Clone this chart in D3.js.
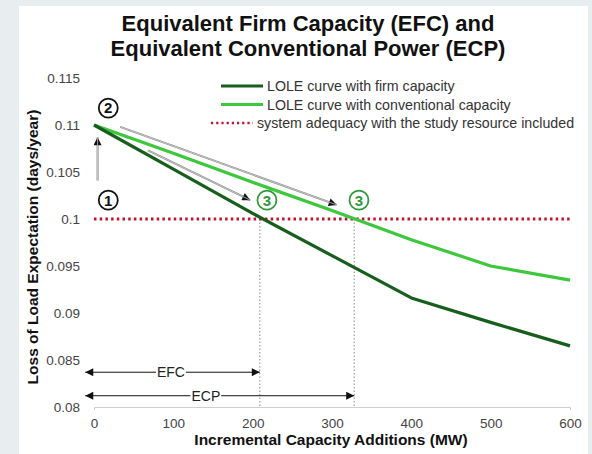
<!DOCTYPE html>
<html><head><meta charset="utf-8">
<script src="https://cdn.jsdelivr.net/npm/d3@7"></script>
<style>
body{margin:0;background:#e8eef0;}
svg{display:block;font-family:"Liberation Sans",Arial,sans-serif;}
</style></head><body>
<svg id="c" width="592" height="454"></svg>
<script>
// ---- data ----
const xValues = [0, 100, 200, 300, 400, 500, 600];
const firmLOLE = [0.110, 0.1053, 0.1006, 0.0961, 0.0916, 0.0890, 0.0865];
const convLOLE = [0.110, 0.1070, 0.1039, 0.1009, 0.0978, 0.0950, 0.0935];
const adequacyLOLE = 0.1;
const efcMW = 209;
const ecpMW = 328;
const xTicks = [0, 100, 200, 300, 400, 500, 600];
const yTicks = [0.08, 0.085, 0.09, 0.095, 0.1, 0.105, 0.11, 0.115];
const legendLabels = ["LOLE curve with firm capacity", "LOLE curve with conventional capacity", "system adequacy with the study resource included"];
const titleLines = ["Equivalent Firm Capacity (EFC) and", "Equivalent Conventional Power (ECP)"];
const xTitle = "Incremental Capacity Additions (MW)";
const yTitle = "Loss of Load Expectation (days/year)";
// annotation anchors (data coordinates)
const stepMarks = [{n:"2", x:18, y:0.1118, c:"#111"}, {n:"1", x:18, y:0.1020, c:"#111"},
                   {n:"3", x:218, y:0.1020, c:"#2f9a3a"}, {n:"3", x:334, y:0.1020, c:"#2f9a3a"}];
const grayArrows = [{x1:4.5, y1:0.1041, x2:4.5, y2:0.1087},
                    {x1:68, y1:0.1073, x2:197, y2:0.1020},
                    {x1:33, y1:0.1098, x2:306, y2:0.1015}];
const spanArrows = [{label:"EFC", from:-11, to:efcMW, y:0.0837, lx:97},
                    {label:"ECP", from:-11, to:ecpMW, y:0.0812, lx:141}];

const svg = d3.select("#c");
svg.append("rect").attr("x",19).attr("y",6).attr("width",569).attr("height",448).attr("fill","#fff");

const x = d3.scaleLinear().domain([0,600]).range([94,570]);
const y = d3.scaleLinear().domain([0.08,0.115]).range([407,78]);

const defs = svg.append("defs");
defs.append("marker").attr("id","ah").attr("viewBox","0 0 10 10").attr("refX",10).attr("refY",5)
  .attr("markerWidth",9).attr("markerHeight",8).attr("markerUnits","userSpaceOnUse").attr("orient","auto")
  .append("path").attr("d","M0,0L10,5L0,10Z").attr("fill","#111");

// title
svg.append("g").selectAll("text").data(titleLines).join("text")
  .attr("x",308).attr("y",(d,i)=>31+i*25).attr("text-anchor","middle")
  .attr("font-size",22).attr("font-weight","bold").attr("fill","#111").text(d=>d);

// axes
const xa = svg.append("g").attr("transform","translate(0,407)")
  .call(d3.axisBottom(x).tickValues(xTicks).tickSize(0).tickSizeOuter(3).tickPadding(11).tickFormat(d3.format("d")));
xa.select(".domain").attr("stroke","#cfcfcf");
xa.selectAll("text").attr("font-size",13.5).attr("fill","#444").attr("font-family","Liberation Sans, Arial, sans-serif");
const ya = svg.append("g").attr("transform","translate(94,0)")
  .call(d3.axisLeft(y).tickValues(yTicks).tickSize(0).tickPadding(14).tickFormat(d=>String(+d.toFixed(3))));
ya.select(".domain").remove();
ya.selectAll("text").attr("font-size",13.5).attr("fill","#444").attr("font-family","Liberation Sans, Arial, sans-serif");

svg.append("text").attr("x",331).attr("y",445).attr("text-anchor","middle")
  .attr("font-size",15.5).attr("font-weight","bold").attr("fill","#111").text(xTitle);
svg.append("text").attr("transform","translate(38,247) rotate(-90)").attr("text-anchor","middle")
  .attr("font-size",15.5).attr("font-weight","bold").attr("fill","#111").text(yTitle);

// vertical dotted guides
svg.append("g").selectAll("line").data([efcMW, ecpMW]).join("line")
  .attr("x1",d=>x(d)).attr("x2",d=>x(d)).attr("y1",y(adequacyLOLE)).attr("y2",y(0.08))
  .attr("stroke","#888").attr("stroke-width",1).attr("stroke-dasharray","1.5,2");

// span arrows EFC / ECP
spanArrows.forEach(a=>{
  svg.append("line").attr("x1",x(a.from)+9).attr("x2",x(a.to)).attr("y1",y(a.y)).attr("y2",y(a.y))
    .attr("stroke","#111").attr("stroke-width",1).attr("marker-end","url(#ah)");
  svg.append("line").attr("x1",x(a.from)+9).attr("x2",x(a.from)).attr("y1",y(a.y)).attr("y2",y(a.y))
    .attr("stroke","#111").attr("stroke-width",1).attr("marker-end","url(#ah)");
  const t = svg.append("text").attr("x",x(a.lx)).attr("y",y(a.y)+5).attr("text-anchor","middle")
    .attr("font-size",14).attr("fill","#222").text(a.label);
  const bb = t.node().getBBox();
  svg.insert("rect", () => t.node()).attr("x",bb.x-1).attr("y",bb.y).attr("width",bb.width+2).attr("height",bb.height).attr("fill","#fff");
});

// adequacy line
svg.append("line").attr("x1",x(0)).attr("x2",x(600)).attr("y1",y(adequacyLOLE)).attr("y2",y(adequacyLOLE))
  .attr("stroke","#c8102e").attr("stroke-width",3).attr("stroke-dasharray","2.5,3.2");

// curves
const line = d3.line().x((d,i)=>x(xValues[i])).y(d=>y(d));
svg.append("path").datum(convLOLE).attr("d",line).attr("fill","none").attr("stroke","#3cc73c").attr("stroke-width",3.2).attr("stroke-linejoin","round");
svg.append("path").datum(firmLOLE).attr("d",line).attr("fill","none").attr("stroke","#175e1c").attr("stroke-width",3.2).attr("stroke-linejoin","round");

// gray annotation arrows
grayArrows.forEach(a=>{
  svg.append("line").attr("x1",x(a.x1)).attr("y1",y(a.y1)).attr("x2",x(a.x2)).attr("y2",y(a.y2))
    .attr("stroke","#8a8a8a").attr("stroke-width",2).attr("marker-end","url(#ah)");
  svg.append("line").attr("x1",x(a.x1)).attr("y1",y(a.y1)).attr("x2",x(a.x2)).attr("y2",y(a.y2))
    .attr("stroke","#dcdcdc").attr("stroke-width",0.7);
});

// step circles
const sg = svg.append("g").selectAll("g").data(stepMarks).join("g")
  .attr("transform",d=>`translate(${x(d.x)},${y(d.y)})`);
sg.append("circle").attr("r",9.5).attr("fill","#fff").attr("stroke",d=>d.c).attr("stroke-width",1.8);
sg.append("text").attr("y",5.3).attr("text-anchor","middle").attr("font-size",15).attr("font-weight","bold")
  .attr("fill",d=>d.c).text(d=>d.n);

// legend
const lg = svg.append("g").attr("transform","translate(221,86)");
const legStyles = [{c:"#175e1c",w:3.2,dash:null,x0:0},{c:"#3cc73c",w:3.2,dash:null,x0:0},{c:"#c8102e",w:2.6,dash:"2.2,3",x0:-10}];
const li = lg.selectAll("g").data(legendLabels).join("g").attr("transform",(d,i)=>`translate(0,${i*18.5})`);
li.append("line").attr("x1",(d,i)=>legStyles[i].x0).attr("x2",(d,i)=>legStyles[i].x0+42).attr("stroke",(d,i)=>legStyles[i].c)
  .attr("stroke-width",(d,i)=>legStyles[i].w).attr("stroke-dasharray",(d,i)=>legStyles[i].dash);
li.append("text").attr("x",(d,i)=>i===2?36:46).attr("y",5).attr("font-size",14.2).attr("fill","#333").text(d=>d);
</script></body></html>
